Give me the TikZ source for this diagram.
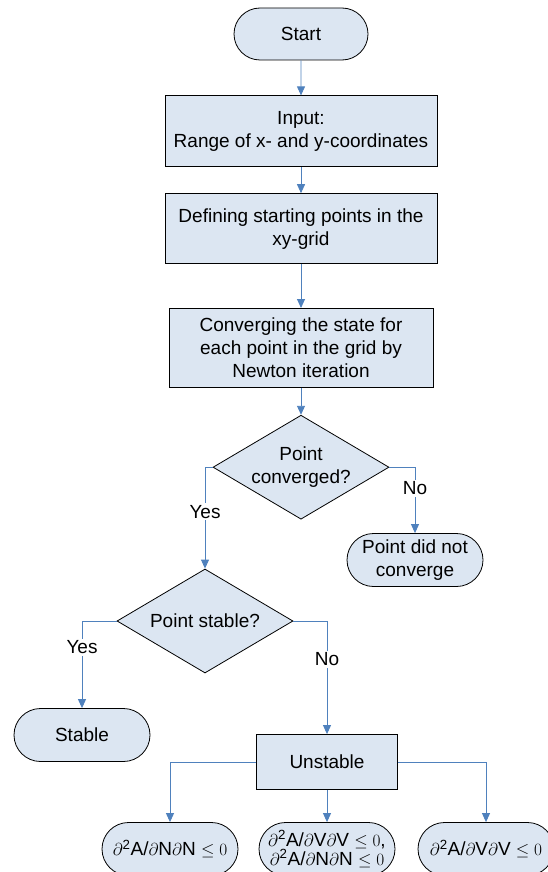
\documentclass[tikz,border=0pt]{standalone}
\usepackage[no-math]{fontspec}
\setmainfont{Liberation Sans}
\usetikzlibrary{shapes.geometric}
\usetikzlibrary{shapes.misc}
\usetikzlibrary{positioning}
\usetikzlibrary{arrows.meta}
\definecolor{boxfill}{HTML}{DCE6F2}
\definecolor{flowblue}{HTML}{4F81BD}
\tikzset{
    process/.style={
        draw,
        rectangle,
        fill=boxfill,
        align=center,
        line width=0.8pt},
    terminal/.style={
        draw,
        rounded rectangle,
        fill=boxfill,
        align=center,
        inner sep=2pt,
        minimum width=140pt,
        minimum height=53pt,
        line width=0.8pt},
    decision/.style={
        draw,
        diamond,
        aspect=1.7,
        inner sep=0pt,
        fill=boxfill,
        align=center,
        minimum width=176pt,
        minimum height=104pt,
        line width=0.8pt},
    answer/.style={
        fill=white,
        inner sep=2pt},
    flow/.style={
        draw=flowblue,
        -{Triangle[length=9pt,width=8pt]},
        line width=0.9pt},
    every edge/.style={flow}}

\begin{document}
\begin{tikzpicture}[x=1pt,y=-1pt,font=\fontsize{19}{23}\selectfont]
        \useasboundingbox (0,0) rectangle (547,872);
        \node[terminal,minimum width=138pt,minimum height=52pt] (start) at (301,34) {Start};
        \node[process,below=35pt of start,minimum width=272pt,minimum height=71pt] (input) {Input:\\Range of x- and y-coordinates};
        \node[process,below=26pt of input,minimum width=272pt,minimum height=70pt] (grid) {Defining starting points in the\\xy-grid};
        \node[process,below=44pt of grid,minimum width=264pt,minimum height=79pt] (newton) {Converging the state for\\each point in the grid by\\Newton iteration};
        \node[decision,below=27pt of newton] (conv) {Point\\converged?};
        \node[terminal] (noconv) at (415,560) {Point did not\\converge};
        \node[decision] (stab) at (205,621) {Point stable?};
        \node[terminal] (stable) at (82,735) {Stable};
        \node[process,minimum width=141pt,minimum height=55pt] (unstable) at (327,762) {Unstable};
        \node[terminal] (nn) at (170,849) {$\partial$\textsuperscript{2}A/$\partial$N$\partial$N $\leq 0$};
        \node[terminal] (vvnn) at (327,849) {$\partial$\textsuperscript{2}A/$\partial$V$\partial$V $\leq 0$,\\[-4pt]$\partial$\textsuperscript{2}A/$\partial$N$\partial$N $\leq 0$};
        \node[terminal] (vv) at (486,849) {$\partial$\textsuperscript{2}A/$\partial$V$\partial$V $\leq 0$};

        \draw (start) edge (input);
        \draw (input) edge (grid);
        \draw (grid) edge (newton);
        \draw (newton) edge (conv);

        \draw[flow] (conv.west) -| node[answer,pos=0.72] {Yes} (stab.north);
        \draw[flow] (conv.east) -| node[answer,pos=0.66] {No} (noconv.north);

        \draw[flow] (stab.west) -| node[answer,pos=0.65] {Yes} (stable.north);
        \draw[flow] (stab.east) -| node[answer,pos=0.67] {No} (unstable.north);

        \draw[flow] (unstable.west) -| (nn.north);
        \draw (unstable) edge (vvnn);
        \draw[flow] (unstable.east) -| (vv.north);
\end{tikzpicture}
\end{document}
